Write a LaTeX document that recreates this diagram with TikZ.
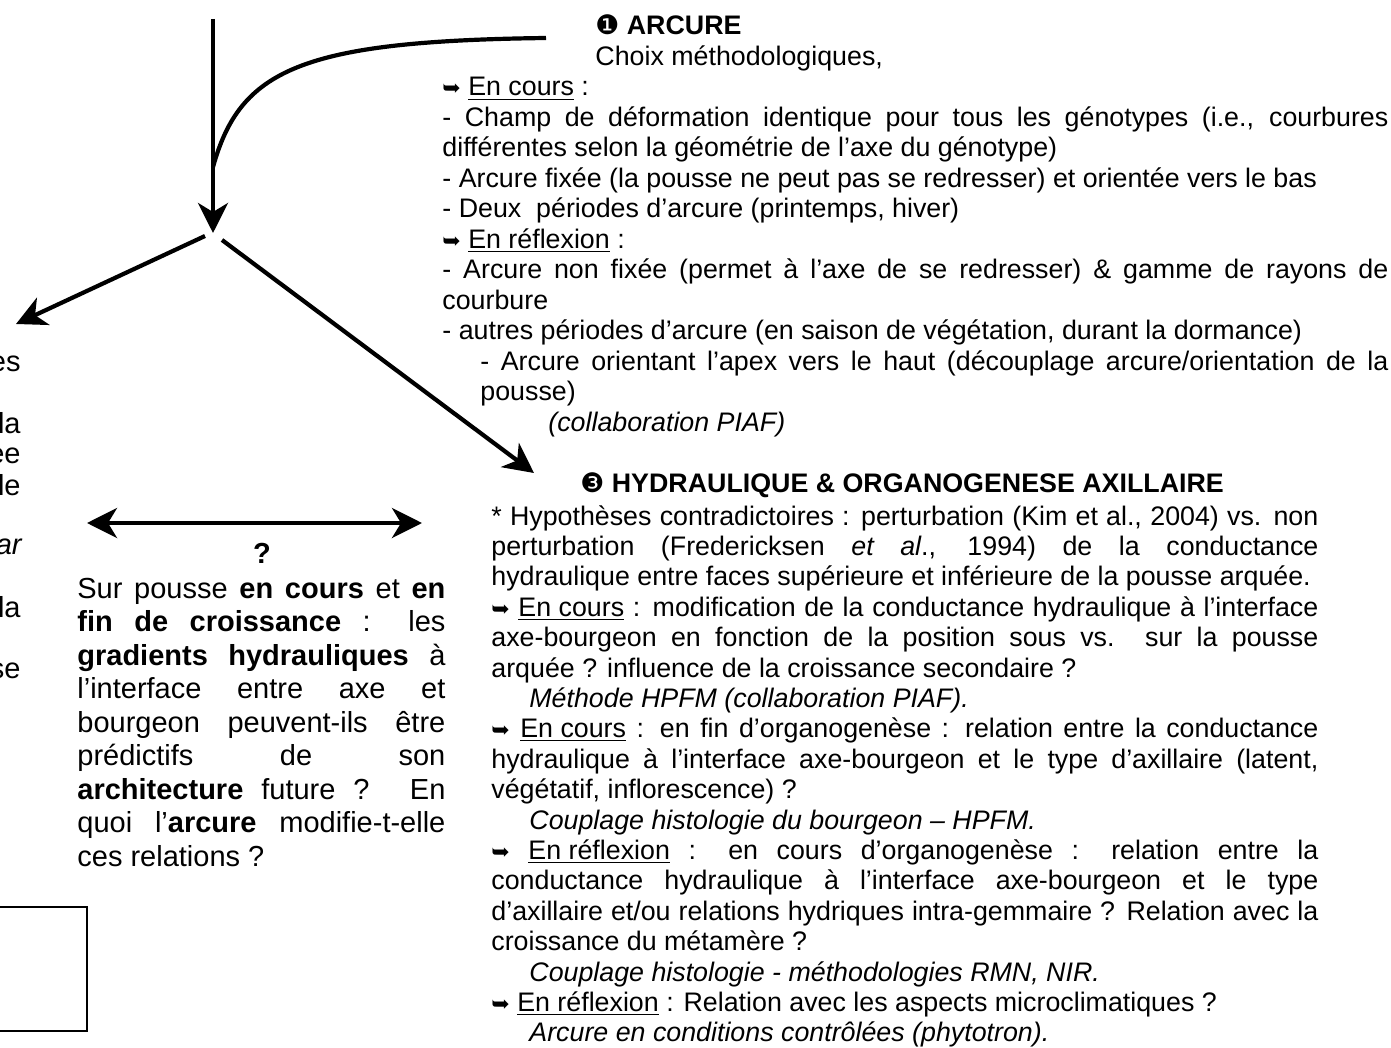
\documentclass[tikz,border=0pt]{standalone}
\usepackage{fontspec}
\setmainfont{Liberation Sans}
\newfontfamily\symfont{DejaVu Sans}
\usetikzlibrary{arrows.meta}

\newcommand{\hand}{{\symfont\fontsize{11}{11}\selectfont ➥}}
\newcommand{\numone}{{\symfont ❶}}
\newcommand{\numthree}{{\symfont ❸}}
\newcommand{\pleine}[1]{\makebox[\linewidth][s]{#1}}

\begin{document}
\begin{tikzpicture}[x=0.5pt,y=-0.5pt,
  fleche/.style={line width=2.1pt,-{Stealth[length=15pt,width=15pt,inset=4.5pt]}},
  bloc/.style={inner sep=0pt,anchor=base west}]
\useasboundingbox (0,0) rectangle (1391,1048);

% les fleches
\coordinate (haut) at (213,19);
\coordinate (noeud) at (213,233);
\coordinate (depart) at (546,38);
\coordinate (jonction) at (213,167);
\coordinate (gauche0) at (205,236);
\coordinate (gauche) at (16,324);
\coordinate (droite0) at (222,240);
\coordinate (droite) at (534,473);
\coordinate (bout1) at (87,523);
\coordinate (bout2) at (422,523);

\draw[fleche] (haut) -- (noeud);
\draw[line width=2.1pt] (depart) .. controls (300,41) and (240,70) .. (jonction);
\draw[fleche] (gauche0) -- (gauche);
\draw[fleche] (droite0) -- (droite);
\draw[line width=2.1pt,{Stealth[length=15pt,width=15pt,inset=4.5pt]}-{Stealth[length=15pt,width=15pt,inset=4.5pt]}] (bout1) -- (bout2);

% ARCURE
\node[bloc] (arcure) at (442,35) {\parbox[t]{473pt}{\fontsize{13.4}{15.25}\selectfont
\hspace*{76.5pt}\numone\ \textbf{ARCURE}\\
\hspace*{76.5pt}Choix méthodologiques,\\
\hand\ \underline{En cours} :\\
\pleine{- Champ de déformation identique pour tous les génotypes (i.e., courbures}\\
différentes selon la géométrie de l’axe du génotype)\\
- Arcure fixée (la pousse ne peut pas se redresser) et orientée vers le bas\\
- Deux\ \ périodes d’arcure (printemps, hiver)\\
\hand\ \underline{En réflexion} :\\
\pleine{- Arcure non fixée (permet à l’axe de se redresser) \& gamme de rayons de}\\
courbure\\
- autres périodes d’arcure (en saison de végétation, durant la dormance)\\
\hspace*{19pt}\makebox[\dimexpr\linewidth-19pt][s]{- Arcure orientant l’apex vers le haut (découplage arcure/orientation de la}\\
\hspace*{19pt}pousse)\\
\hspace*{53pt}\textit{(collaboration PIAF)}}};

% HYDRAULIQUE
\node[bloc] (titre3) at (580,492) {\fontsize{13.4}{15.25}\selectfont\numthree\ \textbf{HYDRAULIQUE \& ORGANOGENESE AXILLAIRE}};
\node[bloc] (hydro) at (491,525) {\parbox[t]{413.5pt}{\fontsize{13.4}{15.2}\selectfont
\pleine{* Hypothèses contradictoires : perturbation (Kim et al., 2004) vs. non}\\
\pleine{perturbation (Fredericksen \textit{et al}., 1994) de la conductance}\\
hydraulique entre faces supérieure et inférieure de la pousse arquée.\\
\pleine{\hand\ \underline{En cours} : modification de la conductance hydraulique à l’interface}\\
\pleine{axe-bourgeon en fonction de la position sous vs. sur la pousse}\\
arquée ? influence de la croissance secondaire ?\\
\hspace*{19pt}\textit{Méthode HPFM (collaboration PIAF).}\\
\pleine{\hand\ \underline{En cours} : en fin d’organogenèse : relation entre la conductance}\\
\pleine{hydraulique à l’interface axe-bourgeon et le type d’axillaire (latent,}\\
végétatif, inflorescence) ?\\
\hspace*{19pt}\textit{Couplage histologie du bourgeon – HPFM.}\\
\pleine{\hand\ \underline{En réflexion} : en cours d’organogenèse : relation entre la}\\
\pleine{conductance hydraulique à l’interface axe-bourgeon et le type}\\
\pleine{d’axillaire et/ou relations hydriques intra-gemmaire ? Relation avec la}\\
croissance du métamère ?\\
\hspace*{19pt}\textit{Couplage histologie - méthodologies RMN, NIR.}\\
\hand\ \underline{En réflexion} : Relation avec les aspects microclimatiques ?\\
\hspace*{19pt}\textit{Arcure en conditions contrôlées (phytotron).}}};

% question centrale
\node[inner sep=0pt] (question) at (262,553) {\fontsize{14.5}{16}\selectfont\textbf{?}};
\node[bloc] (pousse) at (77,598) {\parbox[t]{184pt}{\fontsize{14.5}{16.75}\selectfont
\pleine{Sur pousse \textbf{en cours} et \textbf{en}}\\
\pleine{\textbf{fin de croissance} : les}\\
\pleine{\textbf{gradients hydrauliques} à}\\
\pleine{l’interface entre axe et}\\
\pleine{bourgeon peuvent-ils être}\\
\pleine{prédictifs de son}\\
\pleine{\textbf{architecture} future ? En}\\
\pleine{quoi l’\textbf{arcure} modifie-t-elle}\\
ces relations ?}};

% bord gauche coupe
\begin{scope}[every node/.style={inner sep=0pt,anchor=base east},font=\fontsize{14.5}{16}\selectfont]
\node (r1) at (21,371) {es};
\node (r2) at (21,433) {la};
\node (r3) at (21,463) {ee};
\node (r4) at (21,495) {le};
\node (r5) at (23,554) {\textit{ar}};
\node (r6) at (21,617) {la};
\node (r7) at (21,678) {se};
\end{scope}

\draw[line width=0.7pt] (-5,907) rectangle (87,1031);
\end{tikzpicture}
\end{document}
